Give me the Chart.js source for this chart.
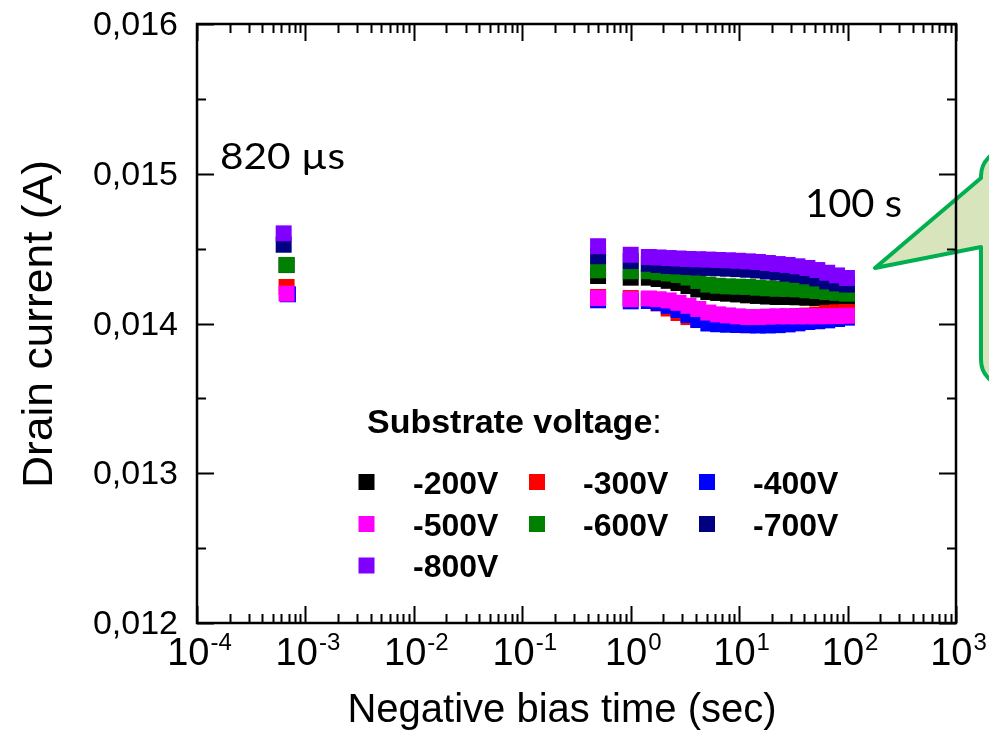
<!DOCTYPE html>
<html><head><meta charset="utf-8">
<script src="https://cdn.jsdelivr.net/npm/chart.js@4/dist/chart.umd.min.js"></script>
<style>html,body{margin:0;padding:0;background:#fff;overflow:hidden}#wrap{width:989px;height:745px;position:relative}</style>
</head><body><div id="wrap"><canvas id="c" width="989" height="745"></canvas></div>
<script>
// ---- data ----
const seriesLabels = ['-200V','-300V','-400V','-500V','-600V','-700V','-800V'];
const seriesColors = ['#000000','#FF0000','#0000FF','#FF00FF','#008000','#000080','#8000FF'];
const firstTimes = [6.7e-4,6.7e-4,6.9e-4,6.7e-4,6.7e-4,6.3e-4,6.3e-4];
const laterTimes = [0.5,1.0,1.47,1.81,2.24,2.76,3.41,4.2,5.2,6.4,7.9,9.8,12.1,14.9,18.4,22.7,28,34.5,42.6,52.6,64.9,80,98.7];
const v200 = [0.01439,0.014317,0.014306,0.014306,0.014297,0.014285,0.01427,0.01425,0.014227,0.01421,0.014204,0.014199,0.014194,0.014188,0.014184,0.01418,0.014177,0.014177,0.014175,0.014172,0.01417,0.014167,0.014166,0.014166];
const v300 = [0.014244,0.014177,0.01417,0.014164,0.014134,0.0141,0.01407,0.014043,0.01403,0.014023,0.014021,0.014023,0.014027,0.01403,0.014033,0.014035,0.01404,0.014047,0.01405,0.014053,0.01406,0.01407,0.014075,0.014077];
const v400 = [0.014195,0.014155,0.014148,0.01415,0.014137,0.014118,0.01409,0.014057,0.014023,0.014,0.013995,0.013992,0.01399,0.013988,0.013987,0.013987,0.013989,0.013994,0.014001,0.01401,0.014015,0.014021,0.01403,0.014039];
const v500 = [0.014199,0.01417,0.014162,0.014167,0.014162,0.014154,0.014138,0.014118,0.014097,0.014073,0.014061,0.014054,0.014048,0.014043,0.014043,0.014046,0.014048,0.014048,0.014048,0.014048,0.014048,0.014049,0.01405,0.014052];
const v600 = [0.014391,0.014355,0.014349,0.014349,0.014342,0.014334,0.014324,0.014307,0.014284,0.01426,0.014252,0.014248,0.014246,0.014244,0.014239,0.014235,0.014232,0.014231,0.014228,0.014222,0.014217,0.01421,0.014205,0.014199];
const v700 = [0.014526,0.014449,0.014417,0.014399,0.014391,0.014384,0.014381,0.014377,0.014374,0.014371,0.014369,0.014366,0.014363,0.014359,0.014354,0.014347,0.014341,0.014333,0.014325,0.014315,0.014301,0.014281,0.014268,0.01426];
const v800 = [0.014602,0.014516,0.014459,0.014444,0.014441,0.014437,0.014434,0.014431,0.014429,0.014427,0.014424,0.014422,0.014419,0.014415,0.014411,0.014404,0.014397,0.014391,0.014382,0.014371,0.014357,0.014339,0.014321,0.014304];
const seriesValues = [v200,v300,v400,v500,v600,v700,v800];
const yTickValues = [0.012,0.013,0.014,0.015,0.016];
const yTickLabels = ['0,012','0,013','0,014','0,015','0,016'];
const xTickExponents = [-4,-3,-2,-1,0,1,2,3];
const xTitle = 'Negative bias time (sec)';
const yTitle = 'Drain current (A)';
const legendTitle = 'Substrate voltage';
const note1 = '820 µs';
const note2 = '100 s';

// ---- build datasets ----
const datasets = seriesLabels.map((lab,i)=>{
  const vals = seriesValues[i];
  const pts = [{x:firstTimes[i], y:vals[0]}];
  laterTimes.forEach((t,j)=>pts.push({x:t, y:vals[j+1]}));
  return {label:lab, data:pts, order:seriesLabels.length-i,
    backgroundColor:seriesColors[i], borderColor:seriesColors[i], borderWidth:0,
    pointStyle:'rect', pointRadius:11.3, pointHoverRadius:11.3, showLine:false};
});

function fitText(ctx, text, x, y, font, target, align){
  ctx.save(); ctx.font = font;
  const w = ctx.measureText(text).width;
  const sx = target ? target / w : 1;
  ctx.translate(x, y); ctx.scale(sx, 1);
  ctx.textAlign = align || 'left';
  ctx.fillText(text, 0, 0); ctx.restore();
}

const deco = {
  id:'deco',
  beforeDatasetsDraw(chart){
    const ctx = chart.ctx;
    ctx.save();
    ctx.beginPath();
    const L=981, T=150, B=386, r=26;
    ctx.moveTo(L, 178);
    ctx.lineTo(875, 268);
    ctx.lineTo(L, 247);
    ctx.lineTo(L, B - r);
    ctx.arcTo(L, B, L + r, B, r);
    ctx.lineTo(1010, B);
    ctx.lineTo(1010, T);
    ctx.lineTo(L + r, T);
    ctx.arcTo(L, T, L, T + r, r);
    ctx.closePath();
    ctx.fillStyle = 'rgb(216,228,188)';
    ctx.fill();
    ctx.lineWidth = 4; ctx.strokeStyle = '#00B050'; ctx.lineJoin = 'round';
    ctx.stroke();
    ctx.restore();
  },
  afterDatasetsDraw(chart){
    const ctx = chart.ctx, a = chart.chartArea;
    const xs = chart.scales.x, ys = chart.scales.y;
    ctx.save();
    ctx.strokeStyle = '#000'; ctx.fillStyle = '#000';
    ctx.lineWidth = 2;
    ctx.beginPath();
    for (let d=-4; d<=3; d++){
      for (let k=1; k<=9; k++){
        const v = k*Math.pow(10,d);
        if (v > 1000.0001) break;
        const px = Math.round(xs.getPixelForValue(v))+0.5;
        const len = k===1 ? 17 : 9;
        ctx.moveTo(px, a.bottom); ctx.lineTo(px, a.bottom - len);
        ctx.moveTo(px, a.top); ctx.lineTo(px, a.top + len);
      }
    }
    for (let i=0;i<=8;i++){
      const v = 0.012 + i*0.0005;
      const py = Math.round(ys.getPixelForValue(v))+0.5;
      const len = i%2===0 ? 17 : 9;
      ctx.moveTo(a.left, py); ctx.lineTo(a.left + len, py);
      ctx.moveTo(a.right, py); ctx.lineTo(a.right - len, py);
    }
    ctx.stroke();
    ctx.lineWidth = 2.5;
    ctx.strokeRect(a.left, a.top, a.right - a.left, a.bottom - a.top);
    ctx.font = '34px "Liberation Sans", Arial, sans-serif';
    ctx.textAlign = 'right'; ctx.textBaseline = 'alphabetic';
    yTickValues.forEach((v,i)=>{
      ctx.fillText(yTickLabels[i], 178, ys.getPixelForValue(v) + 11);
    });
    xTickExponents.forEach(e=>{
      const px = xs.getPixelForValue(Math.pow(10,e));
      ctx.font = '38px "Liberation Sans", Arial, sans-serif';
      const wb = ctx.measureText('10').width;
      ctx.font = '24px "Liberation Sans", Arial, sans-serif';
      const es = String(e);
      const we = ctx.measureText(es).width;
      const x0 = px - (wb + we)/2 + 2;
      ctx.textAlign = 'left';
      ctx.font = '38px "Liberation Sans", Arial, sans-serif';
      ctx.fillText('10', x0, 665);
      ctx.font = '24px "Liberation Sans", Arial, sans-serif';
      ctx.fillText(es, x0 + wb + 1, 650);
    });
    ctx.font = '40px "Liberation Sans", Arial, sans-serif';
    ctx.textAlign = 'center';
    ctx.fillText(xTitle, 562, 722);
    ctx.save();
    ctx.translate(52, 324); ctx.rotate(-Math.PI/2);
    fitText(ctx, yTitle, 0, 0, '42px "Liberation Sans", Arial, sans-serif', 328, 'center');
    ctx.restore();
    fitText(ctx, note1, 220, 169, '37px Lato, "Open Sans", sans-serif', 125, 'left');
    fitText(ctx, note2, 805, 217, '39px Lato, "Open Sans", sans-serif', 97, 'left');
    ctx.textAlign = 'left';
    ctx.font = 'bold 34px "Liberation Sans", Arial, sans-serif';
    ctx.fillText(legendTitle, 367, 433);
    const wt = ctx.measureText(legendTitle).width;
    ctx.font = '34px "Liberation Sans", Arial, sans-serif';
    ctx.fillText(':', 367 + wt, 433);
    const colM = [366.5, 537, 707], colT = [413, 583, 753], rowY = [482, 524, 565.5];
    ctx.font = 'bold 32px "Liberation Sans", Arial, sans-serif';
    seriesLabels.forEach((lab,i)=>{
      const c = i%3, rI = Math.floor(i/3);
      ctx.fillStyle = seriesColors[i];
      ctx.fillRect(colM[c]-8, rowY[rI]-8, 16, 16);
      ctx.fillStyle = '#000';
      ctx.fillText(lab, colT[c], rowY[rI] + 11.5);
    });
    ctx.restore();
  }
};

new Chart(document.getElementById('c'), {
  type:'scatter',
  data:{datasets},
  options:{
    responsive:false, animation:false, devicePixelRatio:1,
    layout:{padding:{left:197, top:24, right:33, bottom:122}},
    scales:{
      x:{type:'logarithmic', min:1e-4, max:1e3, display:false},
      y:{type:'linear', min:0.012, max:0.016, display:false}
    },
    plugins:{legend:{display:false}, tooltip:{enabled:false}}
  },
  plugins:[deco]
});
</script></body></html>
